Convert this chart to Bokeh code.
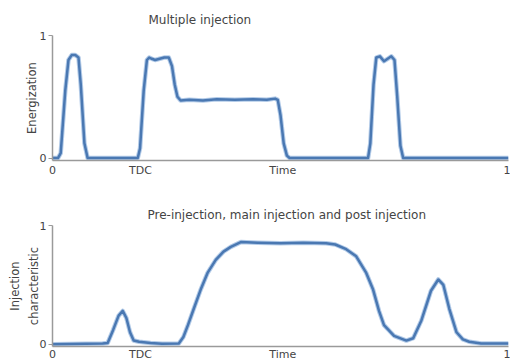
from bokeh.plotting import figure
from bokeh.layouts import column
from bokeh.models import Range1d, FixedTicker, Title
from bokeh.embed import file_html
from bokeh.resources import INLINE

# ---- data ----
tick_pos = [0, 0.193, 0.505, 1]
tick_labels = ["0", "TDC", "Time", "1"]

top_x = [0, 0.012, 0.018, 0.028, 0.035, 0.042, 0.05, 0.057, 0.062, 0.07, 0.077,
         0.187, 0.192, 0.2, 0.207, 0.212, 0.218, 0.225, 0.235, 0.245, 0.255, 0.262,
         0.268, 0.274, 0.281, 0.3, 0.33, 0.36, 0.4, 0.44, 0.47, 0.488, 0.494,
         0.5, 0.507, 0.514, 0.52,
         0.692, 0.697, 0.704, 0.71, 0.718, 0.727, 0.735, 0.743, 0.75, 0.756, 0.763, 0.769, 1]
top_y = [0, 0, 0.04, 0.55, 0.8, 0.84, 0.84, 0.82, 0.6, 0.12, 0,
         0, 0.08, 0.55, 0.8, 0.82, 0.81, 0.8, 0.81, 0.82, 0.82, 0.75,
         0.6, 0.5, 0.47, 0.475, 0.47, 0.48, 0.475, 0.48, 0.475, 0.485, 0.475,
         0.35, 0.12, 0.02, 0,
         0, 0.12, 0.6, 0.82, 0.83, 0.79, 0.81, 0.83, 0.8, 0.5, 0.1, 0, 0]

bot_x = [0, 0.11, 0.121, 0.133, 0.145, 0.154, 0.162, 0.17, 0.178, 0.19, 0.215, 0.24, 0.277,
         0.287, 0.297, 0.31, 0.325, 0.34, 0.358, 0.375, 0.391, 0.413, 0.45, 0.5, 0.55,
         0.6, 0.62, 0.644, 0.666, 0.688, 0.703, 0.716, 0.727, 0.749, 0.776, 0.791,
         0.809, 0.83, 0.846, 0.857, 0.87, 0.886, 0.9, 0.914, 0.94, 1]
bot_y = [0, 0.005, 0.01, 0.12, 0.24, 0.28, 0.22, 0.1, 0.03, 0.02, 0.01, 0.003, 0.005,
         0.06, 0.16, 0.3, 0.46, 0.6, 0.71, 0.78, 0.82, 0.86, 0.855, 0.85, 0.855,
         0.85, 0.84, 0.8, 0.74, 0.6, 0.46, 0.28, 0.16, 0.07, 0.03, 0.05,
         0.2, 0.45, 0.545, 0.5, 0.3, 0.1, 0.04, 0.02, 0.005, 0.005]

LINE = "#4a78b2"
HALO = "#b3cbe8"
AX = "#9a9a9a"
TXT = "#444444"
FONT = "DejaVu Sans"


def make_fig(h, bt, bb, ylabel, title, offset, standoff, lab_standoff, x_standoff):
    p = figure(width=510, height=h, output_backend="svg", toolbar_location=None,
               x_range=Range1d(0, 1), y_range=Range1d(-0.02, 1.0),
               min_border_left=52, min_border_right=2,
               min_border_top=bt, min_border_bottom=bb)
    p.outline_line_color = None
    p.xgrid.visible = False
    p.ygrid.visible = False
    p.title = Title(text=title, align="left", offset=offset,
                    text_font_size="12px", text_font_style="normal",
                    text_color=TXT, text_font=FONT, standoff=standoff)
    xa = p.xaxis[0]
    xa.ticker = FixedTicker(ticks=tick_pos)
    xa.major_label_overrides = {k: v for k, v in zip(tick_pos, tick_labels)}
    xa.major_tick_line_color = None
    xa.major_tick_out = 0
    xa.major_tick_in = 0
    xa.minor_tick_line_color = None
    xa.axis_line_color = AX
    xa.axis_line_width = 1.5
    xa.major_label_text_font_size = "11px"
    xa.major_label_text_font = FONT
    xa.major_label_text_color = TXT
    xa.major_label_standoff = x_standoff
    ya = p.yaxis[0]
    ya.ticker = FixedTicker(ticks=[0, 1])
    ya.minor_tick_line_color = None
    ya.major_tick_in = 0
    ya.major_tick_out = 4
    ya.major_tick_line_color = AX
    ya.axis_line_color = AX
    ya.axis_line_width = 1.5
    ya.major_label_text_font_size = "11px"
    ya.major_label_text_font = FONT
    ya.major_label_text_color = TXT
    ya.major_label_standoff = 2
    ya.axis_label = ylabel
    ya.axis_label_text_font_size = "11.5px"
    ya.axis_label_text_font = FONT
    ya.axis_label_text_font_style = "normal"
    ya.axis_label_text_color = TXT
    ya.axis_label_text_line_height = 1.35
    ya.axis_label_standoff = lab_standoff
    return p


p1 = make_fig(180, 35, 20, "Energization", "Multiple injection", 96, 18, -2, 3)
p1.line(top_x, top_y, line_color=HALO, line_width=4.5, line_join="round")
p1.line(top_x, top_y, line_color=LINE, line_width=2.5, line_join="round")

p2 = make_fig(183, 45, 16, "Injection\ncharacteristic",
              "Pre-injection, main injection and post injection", 95, 8, -4, 1)
p2.line(bot_x, bot_y, line_color=HALO, line_width=4.5, line_join="round")
p2.line(bot_x, bot_y, line_color=LINE, line_width=2.5, line_join="round")

layout = column(p1, p2, spacing=0)
open("out.html", "w").write(file_html(layout, INLINE))
